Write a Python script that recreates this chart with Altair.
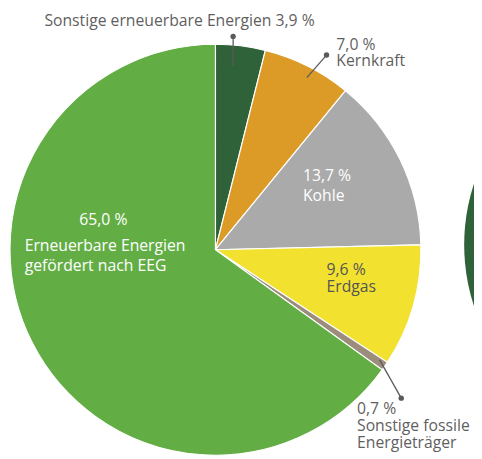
import altair as alt
import pandas as pd

categories = ["Sonstige erneuerbare Energien", "Kernkraft", "Kohle", "Erdgas",
              "Sonstige fossile Energieträger", "Erneuerbare Energien gefördert nach EEG"]
shares = [3.9, 7.0, 13.7, 9.6, 0.7, 65.0]
colors = ["#2f6238", "#dc9b27", "#aaaaaa", "#f2e22f", "#9c8c7c", "#62ae45"]

df = pd.DataFrame({"category": categories, "share": shares, "idx": list(range(len(categories)))})

# label layout (chart pixel coordinates = page - 8)
lab_text = ["Sonstige erneuerbare Energien 3,9 %", "7,0 %", "Kernkraft",
            "13,7 %", "Kohle", "9,6 %", "Erdgas",
            "0,7 %", "Sonstige fossile", "Energieträger",
            "65,0 %", "Erneuerbare Energien", "gefördert nach EEG"]
lab_x = [37, 334, 334, 300, 300, 324, 324, 355, 355, 355, 97, 17, 17]
lab_y = [14, 39, 55, 172, 192, 268, 285, 409, 426, 444, 217, 243, 264]
lab_align = ["left", "left", "left", "left", "left", "left", "left",
             "left", "left", "left", "center", "left", "left"]
lab_color = ["#5f5f5f", "#5f5f5f", "#5f5f5f", "#ffffff", "#ffffff", "#555555", "#555555",
             "#5f5f5f", "#5f5f5f", "#5f5f5f", "#ffffff", "#ffffff", "#ffffff"]
labels = pd.DataFrame({"t": lab_text, "x": lab_x, "y": lab_y, "a": lab_align, "c": lab_color})

# leader lines
ll = pd.DataFrame({
    "x": [229, 324, 400], "y": [25, 44, 393],
    "x2": [229, 304, 378], "y2": [55, 67, 354],
})

W, H = 474, 451

pie = alt.Chart(df).mark_arc(stroke="white", strokeWidth=1.2, radius=209).encode(
    theta=alt.Theta("share:Q", stack=True),
    order=alt.Order("idx:Q"),
    color=alt.Color("category:N", scale=alt.Scale(domain=categories, range=colors), legend=None),
    x=alt.value(211), y=alt.value(242),
)

other = alt.Chart(pd.DataFrame({"v": [1]})).mark_arc(
    radius=200, color="#2f6238", theta=0, theta2=6.2832
).encode(x=alt.value(664), y=alt.value(237))

rules = alt.Chart(ll).mark_rule(color="#5a5a5a", strokeWidth=1.3).encode(
    x=alt.X("x:Q", scale=None), y=alt.Y("y:Q", scale=None),
    x2="x2:Q", y2="y2:Q",
)
dots = alt.Chart(ll).mark_circle(color="#5a5a5a", opacity=1, size=30).encode(
    x=alt.X("x:Q", scale=None), y=alt.Y("y:Q", scale=None),
)

texts = []
for al in ["left", "center"]:
    sub = labels[labels["a"] == al]
    texts.append(alt.Chart(sub).mark_text(align=al, baseline="alphabetic", font="Open Sans",
                                          fontSize=16).encode(
        x=alt.X("x:Q", scale=None), y=alt.Y("y:Q", scale=None),
        text="t:N", color=alt.Color("c:N", scale=None),
    ))

chart = alt.layer(other, pie, rules, dots, *texts).properties(
    width=W, height=H, padding=0, autosize=alt.AutoSizeParams(type="none"),
).configure_view(stroke=None)

chart.save("out.html", embed_options={"renderer": "svg", "actions": False})
